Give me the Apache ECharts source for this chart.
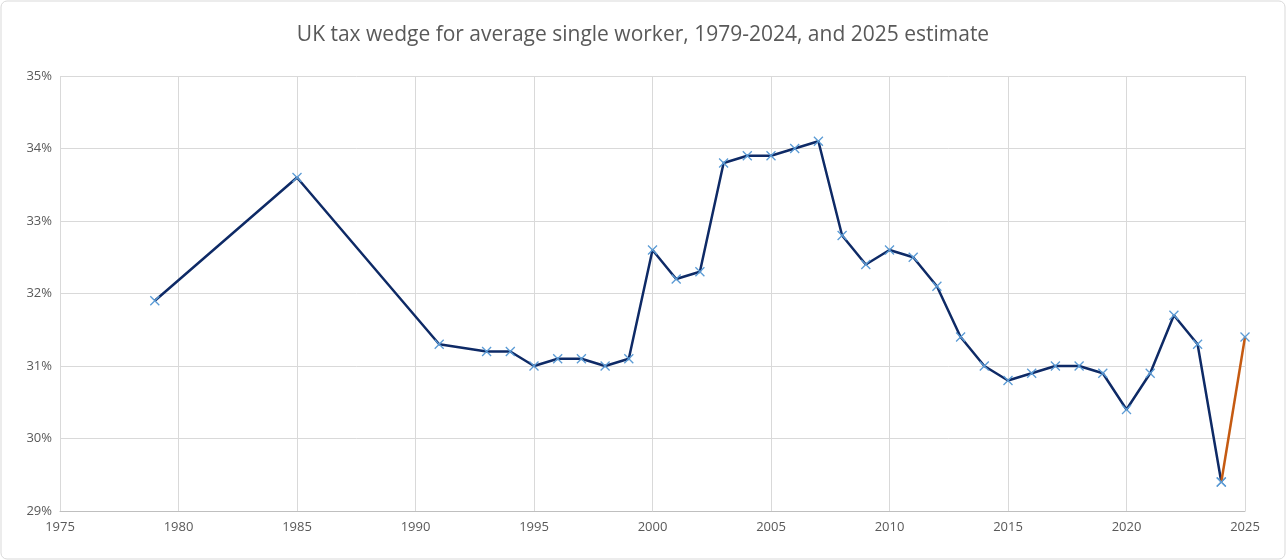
<!DOCTYPE html>
<html>
<head>
<meta charset="utf-8">
<script src="https://cdn.jsdelivr.net/npm/echarts@6/dist/echarts.min.js"></script>
<style>html,body{margin:0;padding:0;background:#fff}#main{width:1286px;height:560px}</style>
</head>
<body>
<div id="main"></div>
<script>
var years = [1979, 1985, 1991, 1993, 1994, 1995, 1996, 1997, 1998, 1999, 2000, 2001, 2002, 2003, 2004, 2005, 2006, 2007, 2008, 2009, 2010, 2011, 2012, 2013, 2014, 2015, 2016, 2017, 2018, 2019, 2020, 2021, 2022, 2023, 2024];
var wedge = [31.9, 33.6, 31.3, 31.2, 31.2, 31.0, 31.1, 31.1, 31.0, 31.1, 32.6, 32.2, 32.3, 33.8, 33.9, 33.9, 34.0, 34.1, 32.8, 32.4, 32.6, 32.5, 32.1, 31.4, 31.0, 30.8, 30.9, 31.0, 31.0, 30.9, 30.4, 30.9, 31.7, 31.3, 29.4];
var estYears = [2024, 2025];
var estimate = [29.4, 31.4];

var cross = 'path://M0,0L10,10M10,0L0,10';
var myChart = echarts.init(document.getElementById('main'));

option = {
    title: {
        text: 'UK tax wedge for average single worker, 1979-2024, and 2025 estimate',
        left: 'center', top: 20,
        textStyle: {fontFamily: 'Open Sans', fontSize: 21, fontWeight: 'normal', color: '#595959'}
    },
    graphic: [{
        type: 'rect', shape: {x: 1, y: 1, width: 1284, height: 558, r: 6},
        style: {fill: 'none', stroke: '#d9d9d9', lineWidth: 1}
    }],
    grid: {left: 60, right: 41, top: 76, bottom: 49},
    xAxis: {
        type: 'value', min: 1975, max: 2025, interval: 5,
        axisLine: {lineStyle: {color: '#bfbfbf'}},
        axisTick: {show: false},
        splitLine: {lineStyle: {color: '#d9d9d9'}},
        axisLabel: {color: '#595959', fontSize: 13, fontFamily: 'Open Sans', margin: 10,
            formatter: function (v) { return String(v); }}
    },
    yAxis: {
        type: 'value', min: 29, max: 35, interval: 1,
        axisLine: {show: false},
        axisTick: {show: false},
        splitLine: {lineStyle: {color: '#d9d9d9'}},
        axisLabel: {color: '#595959', fontSize: 13, fontFamily: 'Open Sans', formatter: '{value}%'}
    },
    series: [
        {
            type: 'line', z: 3,
            data: years.map(function (y, i) { return [y, wedge[i]]; }),
            symbol: cross, symbolSize: 9,
            lineStyle: {color: '#0E2A66', width: 2.5},
            itemStyle: {color: 'none', borderColor: '#5B9BD5', borderWidth: 1.3}
        },
        {
            type: 'line', z: 4,
            data: estYears.map(function (y, i) { return [y, estimate[i]]; }),
            symbol: cross, symbolSize: 9,
            lineStyle: {color: '#C55A11', width: 2.5},
            itemStyle: {color: 'none', borderColor: '#5B9BD5', borderWidth: 1.3}
        }
    ]
};

myChart.setOption(option);
</script>
</body>
</html>
